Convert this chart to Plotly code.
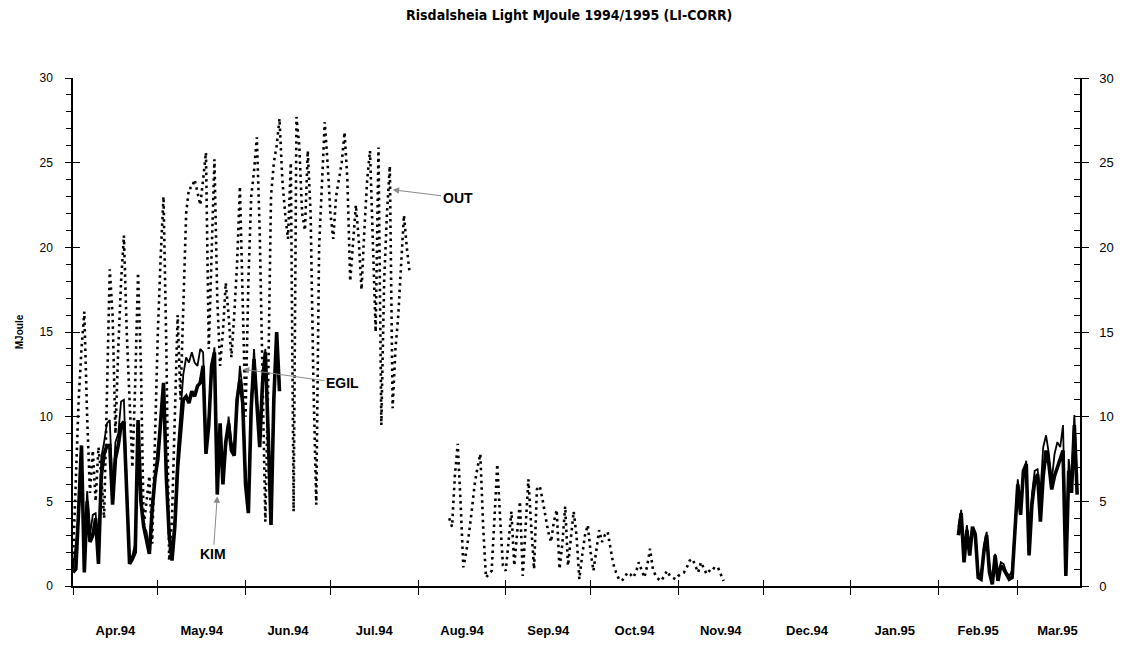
import pandas as pd
import plotly.graph_objects as go

chart_title = "Risdalsheia Light MJoule 1994/1995 (LI-CORR)"
x_start = "1994-04-01"
x_end = "1995-03-23"

# OUT, daily from 1 Apr 1994 (summer part, 120 days)
out_summer = [
    1.5, 6, 11, 14, 16.2, 10, 5.5, 8, 5, 8.2,
    6.5, 4.0, 11, 18.7, 16, 9, 14, 18, 20.7, 15,
    11, 7, 12, 18.5, 13, 3.5, 5, 6.5, 2.5, 9,
    15, 19.5, 23.0, 14, 1.5, 4, 10, 16, 11, 16,
    22, 23.5, 23.5, 24.0, 23.2, 22.5, 24, 25.6, 14, 20,
    25.2, 17, 13, 15, 17.9, 16, 13.5, 16, 19, 23.6,
    16, 10, 18, 23, 24.5, 26.5, 21, 12, 3.8, 12,
    23, 25, 26, 27.6, 24, 22, 20.5, 25, 4.4, 27.7,
    26, 22, 21, 25.7, 22, 12, 4.8, 20, 24, 27.4,
    25, 22, 20.5, 23, 24, 25, 26.8, 24, 18, 20,
    22.5, 20.5, 17.5, 21, 24, 25.7, 20, 15, 25.9, 9.5,
    18, 22, 24.8, 10.5, 14, 16, 19, 21.9, 20, 18.5,
]
out_gap = [None] * 13
# OUT, daily from 12 Aug 1994
out_autumn = [
    4.0, 3.5, 6.5, 8.4, 5.0, 1.1, 2.0, 3.1, 4.5, 6.0,
    7.0, 7.8, 3.5, 0.5, 0.7, 0.9, 4.0, 7.2, 4.0, 1.2,
    0.9, 2.5, 4.4, 1.2, 3.0, 5.0, 0.6, 3.5, 6.3, 3.5,
    1.0, 5.7, 5.9, 5.1, 4.2, 3.2, 2.6, 3.8, 4.5, 1.0,
    2.5, 4.7, 1.2, 2.8, 4.4, 3.0, 0.4, 1.8, 3.0, 3.6,
    2.0, 0.9, 2.0, 3.3, 2.6, 3.0, 3.2, 2.2, 1.3, 0.8,
    0.4, 0.3, 0.5, 0.8, 0.7, 0.5, 0.8, 1.4, 0.9, 0.5,
    1.2, 2.2, 1.0, 0.6, 0.4, 0.3, 0.6, 0.9, 0.6, 0.5,
    0.4, 0.6, 0.7, 0.8, 1.1, 1.5, 1.6, 1.2, 0.8, 1.4,
    1.0, 0.7, 0.9, 1.1, 1.0, 1.1, 0.7, 0.3,
]

# KIM and EGIL, daily from 1 Apr 1994
kim_spring = [
    0.8, 1.0, 4.5, 8.3, 0.8, 5.0, 2.6, 3.0, 4.0, 1.3,
    6.5, 7.8, 8.3, 8.3, 4.8, 7.5, 8.3, 9.5, 9.7, 5.0,
    1.3, 1.6, 2.0, 9.8, 5.0, 3.5, 2.8, 1.9, 4.5, 6.4,
    7.5, 10.0, 12.0, 6.4, 3.0, 1.5, 3.5, 7.0, 9.2, 11.0,
    11.2, 10.8, 11.5, 11.2, 11.8, 12.0, 13.0, 7.8, 9.5, 13.0,
    13.8, 5.4, 9.6, 6.0, 8.5, 9.6, 8.0, 7.7, 11.0, 12.2,
    10.8, 6.0, 4.3, 10.5, 13.4, 10.5, 8.2, 12.0, 13.8, 9.0,
    3.6, 11.0, 15.0, 11.5,
]
egil_spring = [
    1.0, 2.5, 4.0, 7.5, 1.5, 5.6, 3.0, 4.2, 4.3, 2.0,
    7.6, 8.5, 9.6, 9.8, 5.5, 8.5, 9.0, 10.9, 11.0, 6.0,
    1.5, 1.8, 2.5, 9.0, 5.5, 3.6, 3.2, 2.2, 5.0, 6.4,
    8.3, 9.5, 11.5, 7.0, 3.5, 2.0, 4.0, 8.0, 10.0, 12.5,
    13.5, 13.2, 13.8, 13.2, 13.0, 14.0, 13.8, 8.5, 10.0, 12.5,
    14.1, 6.0, 9.0, 6.5, 8.0, 10.0, 8.5, 8.0, 10.5, 13.0,
    11.5, 6.5, 5.0, 11.0, 14.0, 11.0, 9.0, 12.5, 14.0, 9.5,
    4.2, 11.5, 14.5, 12.0,
]
# KIM and EGIL, daily from 8 Feb 1995
kim_winter = [
    3.0, 4.3, 1.4, 3.3, 1.8, 3.5, 3.0, 0.5, 0.4, 2.0,
    3.0, 0.8, 0.1, 1.8, 0.3, 1.2, 1.0, 0.7, 0.4, 0.5,
    2.9, 6.0, 4.2, 6.8, 7.2, 1.8, 4.8, 6.2, 6.6, 3.8,
    6.5, 8.0, 7.2, 5.7, 6.5, 7.0, 7.5, 8.0, 0.6, 6.8,
    5.5, 9.5, 5.4,
]
egil_winter = [
    3.5, 4.5, 1.8, 3.6, 2.2, 3.4, 3.2, 0.8, 0.5, 2.4,
    3.2, 1.2, 0.3, 1.9, 0.5, 1.4, 1.3, 0.8, 0.6, 0.9,
    3.5, 6.3, 4.6, 6.5, 7.4, 2.4, 5.4, 6.8, 6.9, 5.5,
    8.2, 8.9, 7.8, 6.2, 7.8, 8.5, 8.2, 9.5, 1.5, 7.5,
    6.0, 10.1, 6.0,
]

out_vals = out_summer + out_gap + out_autumn
out_x = pd.date_range("1994-04-01", periods=len(out_vals), freq="D")
spring_x = pd.date_range("1994-04-01", periods=len(kim_spring), freq="D")
winter_x = pd.date_range("1995-02-08", periods=len(kim_winter), freq="D")

sans = "Liberation Sans, Arial, sans-serif"
narrow = "Liberation Sans Narrow, DejaVu Sans Condensed, Liberation Sans, sans-serif"

fig = go.Figure()
fig.add_trace(go.Scatter(x=out_x, y=out_vals, mode="lines", name="OUT",
                         line=dict(color="black", width=2.6, dash="2.5px,4px")))
for xs, ys, w in [(spring_x, kim_spring, 3.6), (winter_x, kim_winter, 3.6),
                  (spring_x, egil_spring, 1.8), (winter_x, egil_winter, 1.8)]:
    fig.add_trace(go.Scatter(x=xs, y=ys, mode="lines",
                             line=dict(color="black", width=w)))

# empty traces so the overlay axes (inner half of the crossing ticks) get drawn
fig.add_trace(go.Scatter(x=[x_start], y=[None], xaxis="x2", yaxis="y", hoverinfo="skip"))
fig.add_trace(go.Scatter(x=[x_start], y=[None], xaxis="x", yaxis="y2", hoverinfo="skip"))
fig.add_trace(go.Scatter(x=[x_start], y=[None], xaxis="x", yaxis="y3", hoverinfo="skip"))
fig.add_trace(go.Scatter(x=[x_start], y=[None], xaxis="x", yaxis="y4", hoverinfo="skip"))

xcommon = dict(type="date", range=[x_start, x_end], dtick="M1", tick0="1994-04-01",
               tickcolor="black", tickwidth=1.3, showgrid=False, zeroline=False)
ycommon = dict(range=[0, 30], dtick=5, tickcolor="black", tickwidth=1.3,
               showgrid=False, zeroline=False)

# page body has an 8px margin, so the figure is a bit smaller than the window
fig.update_layout(
    width=1118, height=639,
    margin=dict(l=65, r=46, t=70, b=61, autoexpand=False),
    paper_bgcolor="white", plot_bgcolor="white",
    showlegend=False,
    title=dict(text=chart_title, x=0.502, xanchor="center", y=0.989, yanchor="middle",
               font=dict(family=narrow, size=14, color="black", weight="bold")),
    xaxis=dict(**xcommon, tickformat="%b.%y", ticklabelmode="period",
               ticks="outside", ticklen=7, showline=True, linecolor="black", linewidth=1.5,
               ticklabelstandoff=25,
               tickfont=dict(family=sans, size=13, color="black", weight="bold")),
    xaxis2=dict(**xcommon, overlaying="x", anchor="y", side="bottom",
                ticks="inside", ticklen=6, showticklabels=False, showline=False),
    yaxis=dict(**ycommon, ticks="outside", ticklen=6, showline=True,
               linecolor="black", linewidth=1.5, ticklabelstandoff=10,
               minor=dict(dtick=1, ticks="outside", ticklen=5, tickcolor="black", tickwidth=1),
               tickfont=dict(family=sans, size=12, color="black"),
               title=dict(text="MJoule", standoff=14,
                          font=dict(family=sans, size=10, color="black", weight="bold"))),
    yaxis2=dict(**ycommon, overlaying="y", anchor="x", side="right",
                ticks="outside", ticklen=7, showline=True, linecolor="black", linewidth=1.5,
                ticklabelstandoff=8,
                minor=dict(dtick=1, ticks="inside", ticklen=6, tickcolor="black", tickwidth=1),
                tickfont=dict(family=sans, size=13, color="black")),
    yaxis3=dict(**ycommon, overlaying="y", anchor="x", side="left",
                ticks="inside", ticklen=7, showticklabels=False, showline=False),
    yaxis4=dict(**ycommon, overlaying="y", anchor="x", side="right",
                ticks="inside", ticklen=6, showticklabels=False, showline=False),
)

label_font = dict(family=sans, size=14, color="black", weight="bold")
arrow = dict(showarrow=True, arrowhead=2, arrowsize=1.3, arrowwidth=1, arrowcolor="#8a8a8a",
             xref="x", yref="y", font=label_font)
fig.add_annotation(text="OUT", x="1994-07-23", y=23.4, ax=65, ay=8, **arrow)
fig.add_annotation(text="EGIL", x="1994-05-31", y=12.8, ax=100, ay=14, **arrow)
fig.add_annotation(text="KIM", x="1994-05-22", y=5.3, ax=-4, ay=58, **arrow)

fig.write_html("out.html")
